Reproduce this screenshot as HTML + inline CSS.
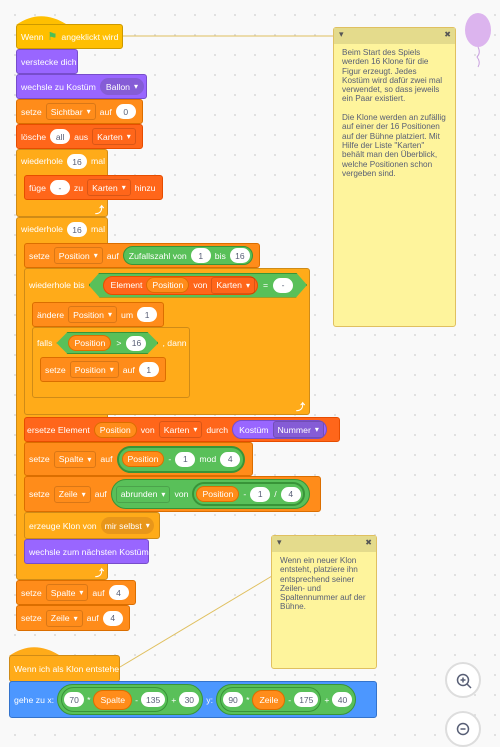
<!DOCTYPE html>
<html><head><meta charset="utf-8">
<style>
html,body{margin:0;padding:0}
body{width:500px;height:736px;overflow:hidden;position:relative;background:#f9f9f9;
background-image:radial-gradient(circle,#dcdcdc 0.8px,transparent 1.2px);background-size:20px 20px;background-position:5px 5px;
font-family:"Liberation Sans",sans-serif}
.b{position:absolute;display:flex;align-items:center;padding-left:4px;gap:4px;font-size:8.7px;color:#fff;border-radius:3px;box-sizing:border-box;white-space:nowrap}
.row{display:flex;align-items:center;gap:4px}
.ev{background:#ffbf00;border:1px solid #cc9900}
.lo{background:#9966ff;border:1px solid #774dcb}
.va{background:#ff8c1a;border:1px solid #db6e00}
.li{background:#ff661a;border:1px solid #e64d00}
.co{background:#ffab19;border:1px solid #cf8b17}
.mo{background:#4c97ff;border:1px solid #3373cc}
.in{background:#fff;color:#575e75;border-radius:9px;height:15px;min-width:10px;display:inline-flex;align-items:center;justify-content:center;padding:0 5px;font-size:8.5px}
.dd{border:1px solid rgba(0,0,0,.15);border-radius:3px;height:17px;display:inline-flex;align-items:center;padding:0 4px;box-sizing:border-box}
.dd:after{content:"▾";margin-left:4px;font-size:8px}
.op{background:#59c059;border:1px solid #389438;border-radius:12px;height:19px;display:inline-flex;align-items:center;padding:0 2px;gap:4px;box-sizing:border-box}
.hex{background:#59c059;border:1px solid #389438;height:22px;display:inline-flex;align-items:center;padding:0 11px;gap:5px;box-sizing:border-box;clip-path:polygon(11px 0,calc(100% - 11px) 0,100% 50%,calc(100% - 11px) 100%,11px 100%,0 50%)}
.v{background:#ff8c1a;border:1px solid #db6e00;border-radius:9px;height:16px;display:inline-flex;align-items:center;padding:0 5px;box-sizing:border-box}
.arr{position:absolute;color:#fff;font-size:9px;font-weight:bold}
.note{position:absolute;background:#fef49c;border:1px solid #e0c060;box-sizing:border-box;border-radius:3px}
.note .h{height:16px;background:#e4db8c;position:relative}
.note .h:before{content:"▾";position:absolute;left:5px;top:1px;font-size:9px;color:#555}
.note .h:after{content:"✖";position:absolute;right:4px;top:2px;font-size:8px;color:#555}
.note .t{padding:4px 9px 4px 8px;font-size:8.2px;line-height:9.3px;color:#575e75}
.zm{position:absolute;width:36px;height:36px;border-radius:50%;border:2px solid #ddd;background:#fff;box-sizing:border-box}
</style></head><body>
<svg style="position:absolute;left:0;top:0" width="500" height="736">
<line x1="123" y1="36" x2="334" y2="36" stroke="#e0c060" stroke-width="1"/>
<line x1="120" y1="667" x2="272" y2="576" stroke="#e0c060" stroke-width="1"/>
<ellipse cx="478" cy="30" rx="13" ry="17" fill="#dcb4ee"/>
<path d="M478 47 q3 6 -1 10 q4 5 1 10" stroke="#c9a0e0" fill="none" stroke-width="1"/>
<path d="M16 25 Q40 8 66 24 Z" fill="#ffbf00"/>
<path d="M9 656 Q33 639 59 655 Z" fill="#ffab19"/>
</svg>
<!-- script 1 -->
<div class="b ev" style="left:16px;top:24px;width:107px;height:25px">Wenn <span style="color:#4cbf56;font-size:11px">⚑</span> angeklickt wird</div>
<div class="b lo" style="left:16px;top:49px;width:62px;height:25px">verstecke dich</div>
<div class="b lo" style="left:16px;top:74px;width:131px;height:25px">wechsle zu Kostüm <span class="dd" style="background:#855cd6;border-radius:9px;border:none;height:17px;padding:0 6px">Ballon</span></div>
<div class="b va" style="left:16px;top:99px;width:127px;height:25px">setze <span class="dd">Sichtbar</span> auf <span class="in">0</span></div>
<div class="b li" style="left:16px;top:124px;width:127px;height:25px">lösche <span class="in">all</span> aus <span class="dd">Karten</span></div>
<!-- repeat 1 -->
<div class="b co" style="left:16px;top:149px;width:92px;height:68px;align-items:flex-start;padding-top:6px">wiederhole <span class="in" style="margin-top:-2px">16</span> mal</div>
<div class="arr" style="left:95px;top:203px">⤴</div>
<div class="b li" style="left:24px;top:175px;width:139px;height:25px">füge <span class="in">-</span> zu <span class="dd">Karten</span> hinzu</div>
<!-- repeat 2 -->
<div class="b co" style="left:16px;top:217px;width:92px;height:363px;align-items:flex-start;padding-top:6px">wiederhole <span class="in" style="margin-top:-2px">16</span> mal</div>
<div class="arr" style="left:95px;top:566px">⤴</div>
<div class="b va" style="left:24px;top:243px;width:236px;height:25px">setze <span class="dd">Position</span> auf <span class="op" style="padding-left:5px">Zufallszahl von <span class="in">1</span> bis <span class="in">16</span></span></div>
<!-- repeat until -->
<div class="b co" style="left:24px;top:268px;width:286px;height:147px;align-items:flex-start"><div class="row" style="height:32px">wiederhole bis <span class="hex" style="height:25px;padding:0 13px"><span class="op" style="background:#ff661a;border-color:#e64d00;padding-left:7px">Element <span class="v">Position</span> von <span class="dd">Karten</span></span> = <span class="in">-</span></span></div></div>
<div class="arr" style="left:296px;top:400px">⤴</div>
<div class="b va" style="left:32px;top:302px;width:132px;height:25px">ändere <span class="dd">Position</span> um <span class="in">1</span></div>
<div class="b co" style="left:32px;top:327px;width:158px;height:71px;align-items:flex-start"><div class="row" style="height:30px">falls <span class="hex"><span class="v">Position</span> &gt; <span class="in">16</span></span> , dann</div></div>
<div class="b va" style="left:40px;top:357px;width:126px;height:25px">setze <span class="dd">Position</span> auf <span class="in">1</span></div>
<div class="b li" style="left:24px;top:417px;width:316px;height:25px;padding-left:2px">ersetze Element <span class="v" style="background:#ff8c1a">Position</span> von <span class="dd">Karten</span> durch <span class="op" style="background:#9966ff;border-color:#774dcb;padding-left:6px">Kostüm <span class="dd" style="background:#855cd6">Nummer</span></span></div>
<div class="b va" style="left:24px;top:442px;width:229px;height:34px">setze <span class="dd">Spalte</span> auf <span class="op" style="height:27px;border-radius:14px;padding:0 3px;border-width:2px"><span class="op" style="border:none;padding:0"><span class="v">Position</span> - <span class="in">1</span></span> mod <span class="in">4</span></span></div>
<div class="b va" style="left:24px;top:476px;width:297px;height:36px">setze <span class="dd">Zeile</span> auf <span class="op" style="height:30px;border-radius:15px;padding:0 4px"><span class="dd">abrunden</span> von <span class="op" style="height:24px;border-radius:12px;border-width:2px"><span class="v">Position</span> - <span class="in">1</span> / <span class="in">4</span></span></span></div>
<div class="b co" style="left:24px;top:512px;width:136px;height:27px">erzeuge Klon von <span class="dd" style="background:#e8961a;border:none;border-radius:9px">mir selbst</span></div>
<div class="b lo" style="left:24px;top:539px;width:125px;height:25px">wechsle zum nächsten Kostüm</div>
<div class="b va" style="left:16px;top:580px;width:120px;height:25px">setze <span class="dd">Spalte</span> auf <span class="in">4</span></div>
<div class="b va" style="left:16px;top:605px;width:114px;height:26px">setze <span class="dd">Zeile</span> auf <span class="in">4</span></div>
<!-- script 2 -->
<div class="b co" style="left:9px;top:655px;width:111px;height:27px">Wenn ich als Klon entstehe</div>
<div class="b mo" style="left:9px;top:681px;width:368px;height:37px;gap:3px">gehe zu x: <span class="op" style="height:31px;border-radius:16px;padding:0 3px;gap:3px"><span class="op" style="height:25px;border-radius:13px;padding:0 2px;gap:3px"><span class="in">70</span> * <span class="v" style="height:20px;border-radius:10px;padding:0 6px">Spalte</span> - <span class="in">135</span></span> + <span class="in">30</span></span> y: <span class="op" style="height:31px;border-radius:16px;padding:0 3px;gap:3px"><span class="op" style="height:25px;border-radius:13px;padding:0 2px;gap:3px"><span class="in">90</span> * <span class="v" style="height:20px;border-radius:10px;padding:0 6px">Zeile</span> - <span class="in">175</span></span> + <span class="in">40</span></span></div>
<!-- notes -->
<div class="note" style="left:333px;top:27px;width:123px;height:300px"><div class="h"></div><div class="t">Beim Start des Spiels werden 16 Klone für die Figur erzeugt. Jedes Kostüm wird dafür zwei mal verwendet, so dass jeweils ein Paar existiert.<br><br>Die Klone werden an zufällig auf einer der 16 Positionen auf der Bühne platziert. Mit Hilfe der Liste "Karten" behält man den Überblick, welche Positionen schon vergeben sind.</div></div>
<div class="note" style="left:271px;top:535px;width:106px;height:134px"><div class="h"></div><div class="t">Wenn ein neuer Klon entsteht, platziere ihn entsprechend seiner Zeilen- und Spaltennummer auf der Bühne.</div></div>
<!-- zoom buttons -->
<div class="zm" style="left:445px;top:662px"></div>
<div class="zm" style="left:445px;top:711px"></div>
<svg style="position:absolute;left:455px;top:672px" width="20" height="20"><circle cx="8" cy="8" r="5.5" fill="none" stroke="#575e75" stroke-width="1.5"/><path d="M8 5.5v5M5.5 8h5M12 12l4 4" stroke="#575e75" stroke-width="1.5"/></svg>
<svg style="position:absolute;left:455px;top:721px" width="20" height="20"><circle cx="8" cy="8" r="5.5" fill="none" stroke="#575e75" stroke-width="1.5"/><path d="M5.5 8h5" stroke="#575e75" stroke-width="1.5"/></svg>
</body></html>
